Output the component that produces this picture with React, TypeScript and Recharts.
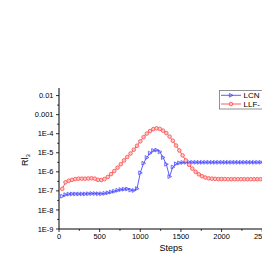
import { LineChart, Line, XAxis, YAxis } from "recharts";

const steps = [
  40, 80, 120, 160, 200, 240, 280, 320, 360, 400, 440, 480, 520, 560, 600, 640, 680, 720, 760, 800,
  840, 880, 920, 960, 1000, 1040, 1080, 1120, 1160, 1200, 1240, 1280, 1320, 1360, 1400, 1440, 1480,
  1520, 1560, 1600, 1640, 1680, 1720, 1760, 1800, 1840, 1880, 1920, 1960, 2000, 2040, 2080, 2120,
  2160, 2200, 2240, 2280, 2320, 2360, 2400, 2440, 2480, 2520, 2560, 2600, 2640, 2680, 2720, 2760,
];

const lcn = [
  5.25e-8, 6.31e-8, 6.76e-8, 6.92e-8, 6.92e-8, 6.92e-8, 6.92e-8, 6.92e-8, 7.08e-8, 7.24e-8, 7.24e-8,
  7.08e-8, 7.08e-8, 7.41e-8, 7.94e-8, 8.71e-8, 9.55e-8, 1.07e-7, 1.17e-7, 1.23e-7, 1.26e-7, 1.1e-7,
  1.05e-7, 1.32e-7, 8.91e-7, 2.82e-6, 5.62e-6, 9.55e-6, 1.32e-5, 1.38e-5, 1.12e-5, 5.62e-6, 2.51e-6,
  5.62e-7, 1.78e-6, 2.63e-6, 2.95e-6, 3.09e-6, 3.16e-6, 3.16e-6, 3.16e-6, 3.16e-6, 3.16e-6, 3.16e-6,
  3.16e-6, 3.16e-6, 3.16e-6, 3.16e-6, 3.16e-6, 3.16e-6, 3.16e-6, 3.16e-6, 3.16e-6, 3.16e-6, 3.16e-6,
  3.16e-6, 3.16e-6, 3.16e-6, 3.16e-6, 3.16e-6, 3.16e-6, 3.16e-6, 3.16e-6, 3.16e-6, 3.16e-6, 3.16e-6,
  3.16e-6, 3.16e-6, 3.16e-6,
];

const llf = [
  1.29e-7, 2.82e-7, 3.39e-7, 3.8e-7, 4.17e-7, 4.37e-7, 4.37e-7, 4.37e-7, 4.47e-7, 4.57e-7, 4.37e-7,
  3.8e-7, 3.72e-7, 4.17e-7, 5.37e-7, 7.59e-7, 1.1e-6, 1.66e-6, 2.51e-6, 3.98e-6, 6.03e-6, 9.12e-6,
  1.45e-5, 2.34e-5, 3.98e-5, 6.61e-5, 1.02e-4, 1.38e-4, 1.74e-4, 1.91e-4, 1.78e-4, 1.45e-4, 1.07e-4,
  7.08e-5, 4.27e-5, 2.4e-5, 1.32e-5, 7.24e-6, 3.98e-6, 2.34e-6, 1.48e-6, 1e-6, 7.41e-7, 5.89e-7,
  5.01e-7, 4.57e-7, 4.37e-7, 4.27e-7, 4.17e-7, 4.17e-7, 4.17e-7, 4.1e-7, 4.1e-7, 4.1e-7, 4.1e-7,
  4.1e-7, 4.1e-7, 4.1e-7, 4.1e-7, 4.1e-7, 4.1e-7, 4.1e-7, 4.1e-7, 4.1e-7, 4.1e-7, 4.1e-7, 4.1e-7,
  4.1e-7, 4.1e-7,
];

const xTicks = [0, 250, 500, 750, 1000, 1250, 1500, 1750, 2000, 2250, 2500, 2750];
const xLabels = ["0", "500", "1000", "1500", "2000", "2500"];

const yMajor = [1e-9, 1e-8, 1e-7, 1e-6, 1e-5, 1e-4, 1e-3, 1e-2];
const yMinor = [3.16e-9, 3.16e-8, 3.16e-7, 3.16e-6, 3.16e-5, 3.16e-4, 3.16e-3];
const yLabels = ["1E-9", "1E-8", "1E-7", "1E-6", "1E-5", "1E-4", "0.001", "0.01"];

const data = steps.map((s, i) => ({ step: s, lcn: lcn[i], llf: llf[i] }));

const BLUE = "#4b4bff";
const RED = "#ff4a4a";
const FONT = "'Liberation Sans', Arial, sans-serif";

const XTick = ({ x, y, payload }: any) => {
  const major = payload.value % 500 === 0;
  const label = xLabels.find((l) => Number(l) === payload.value);
  return (
    <g>
      <line x1={x} y1={y} x2={x} y2={y + (major ? 3 : 1.8)} stroke="#000" strokeWidth={0.8} />
      {major && label && (
        <text x={x} y={y + 10} textAnchor="middle" fontSize={7.5} fontFamily={FONT} fill="#000">
          {label}
        </text>
      )}
    </g>
  );
};

const YTick = ({ x, y, payload }: any) => {
  const idx = yMajor.findIndex((v) => Math.abs(v - payload.value) / v < 0.01);
  const major = idx >= 0;
  return (
    <g>
      <line x1={x} y1={y} x2={x - (major ? 3 : 1.8)} y2={y} stroke="#000" strokeWidth={0.8} />
      {major && (
        <text x={x - 5.5} y={y + 2.6} textAnchor="end" fontSize={7.5} fontFamily={FONT} fill="#000">
          {yLabels[idx]}
        </text>
      )}
    </g>
  );
};

const Tri = ({ cx, cy }: any) => (
  <polygon
    points={`${cx - 1.6},${cy - 1.9} ${cx + 2},${cy} ${cx - 1.6},${cy + 1.9}`}
    fill="none"
    stroke={BLUE}
    strokeWidth={0.8}
  />
);

const Circ = ({ cx, cy }: any) => (
  <circle cx={cx} cy={cy} r={1.8} fill="#ffc8c8" stroke={RED} strokeWidth={0.8} />
);

export default function App() {
  return (
    <div style={{ position: "absolute", left: 0, top: 0, width: 262, height: 262, overflow: "hidden", background: "#fff" }}>
      <LineChart width={300} height={262} data={data} margin={{ top: 88, right: 15, bottom: 0, left: 0 }}>
        <XAxis
          dataKey="step"
          type="number"
          domain={[0, 2780]}
          ticks={xTicks}
          tick={<XTick />}
          tickSize={0}
          tickMargin={0}
          height={33}
          stroke="#000"
          interval={0}
          allowDataOverflow
        />
        <XAxis xAxisId="top" orientation="top" dataKey="step" type="number" domain={[0, 2780]} tick={false} tickLine={false} height={0} stroke="#000" />
        <YAxis
          scale="log"
          domain={[1e-9, 0.025]}
          ticks={[...yMajor, ...yMinor]}
          tick={<YTick />}
          tickSize={0}
          tickMargin={0}
          width={59}
          stroke="#000"
          interval={0}
          allowDataOverflow
        />
        <Line
          dataKey="lcn"
          stroke={BLUE}
          strokeWidth={0.9}
          dot={(p: any) => <Tri key={`b${p.index}`} cx={p.cx} cy={p.cy} />}
          isAnimationActive={false}
        />
        <Line
          dataKey="llf"
          stroke={RED}
          strokeWidth={0.9}
          dot={(p: any) => <Circ key={`r${p.index}`} cx={p.cx} cy={p.cy} />}
          isAnimationActive={false}
        />
      </LineChart>
      <svg width={262} height={262} style={{ position: "absolute", left: 0, top: 0, pointerEvents: "none" }}>
        <text transform="translate(28,160) rotate(-90)" textAnchor="middle" fontSize={9} fontFamily={FONT} fill="#000">
          Rl<tspan fontSize={6} dy={2}>3</tspan>
        </text>
        <text x={171} y={251} textAnchor="middle" fontSize={9} fontFamily={FONT} fill="#000">
          Steps
        </text>
        <rect x={219.5} y={90.5} width={60} height={18.5} fill="#fff" stroke="#777" strokeWidth={0.8} />
        <line x1={221} y1={95.3} x2={241} y2={95.3} stroke={BLUE} strokeWidth={0.9} />
        <Tri cx={231} cy={95.3} />
        <text x={243.5} y={98.1} fontSize={8} fontFamily={FONT} fill="#000">LCN</text>
        <line x1={221} y1={104} x2={241} y2={104} stroke={RED} strokeWidth={0.9} />
        <Circ cx={231} cy={104} />
        <text x={243.5} y={106.8} fontSize={8} fontFamily={FONT} fill="#000">LLF-</text>
      </svg>
    </div>
  );
}
